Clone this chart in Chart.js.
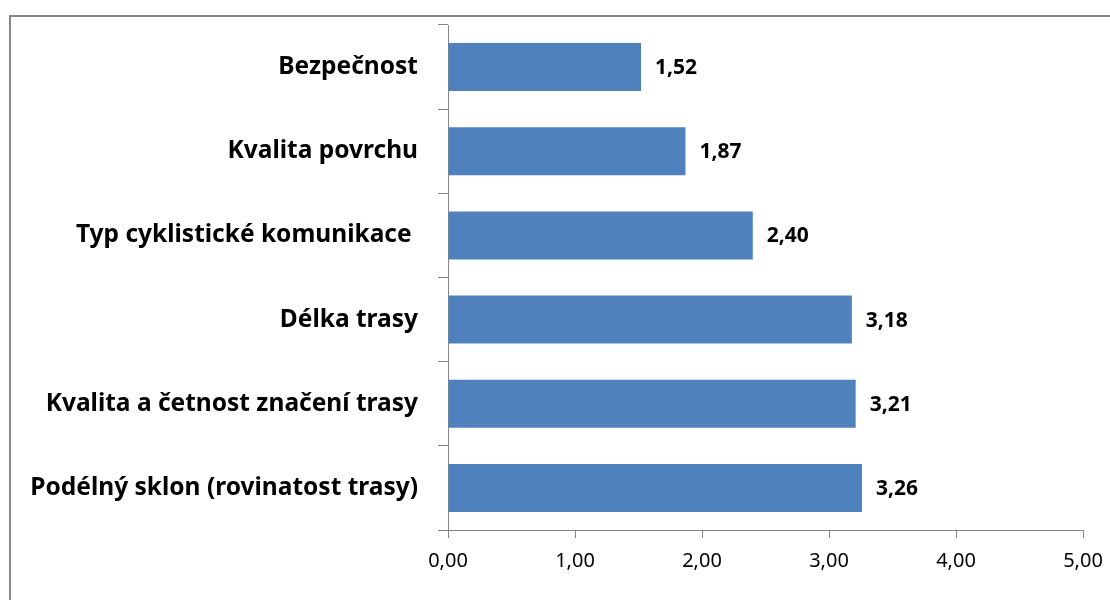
<!DOCTYPE html>
<html>
<head>
<meta charset="utf-8">
<script src="https://cdn.jsdelivr.net/npm/chart.js@4.4.1/dist/chart.umd.min.js"></script>
<style>
  html, body { margin: 0; padding: 0; background: #fff; }
  #wrap { position: relative; width: 1110px; height: 600px; }
</style>
</head>
<body>
<div id="wrap"><canvas id="chart" width="1110" height="600"></canvas></div>
<script>
const categories = [
  "Bezpečnost",
  "Kvalita povrchu",
  "Typ cyklistické komunikace ",
  "Délka trasy",
  "Kvalita a četnost značení trasy",
  "Podélný sklon (rovinatost trasy)"
];
const values = [1.52, 1.87, 2.40, 3.18, 3.21, 3.26];
const xTicks = [0, 1, 2, 3, 4, 5];

const fmt = (v) => v.toFixed(2).replace(".", ",");
const FONT = "'Noto Sans', 'DejaVu Sans', sans-serif";

// outer frame, clipped at the right and bottom like the reference
const framePlugin = {
  id: "frame",
  beforeDraw(chart) {
    const ctx = chart.ctx;
    ctx.save();
    ctx.fillStyle = "#fff";
    ctx.fillRect(0, 0, chart.width, chart.height);
    ctx.strokeStyle = "#878787";
    ctx.lineWidth = 2;
    ctx.strokeRect(10, 16, 1200, 700);
    ctx.restore();
  }
};

// value labels at bar ends
const valueLabels = {
  id: "valueLabels",
  afterDatasetsDraw(chart) {
    const ctx = chart.ctx;
    const meta = chart.getDatasetMeta(0);
    ctx.save();
    ctx.font = "bold 21px " + FONT;
    ctx.fillStyle = "#000";
    ctx.textBaseline = "middle";
    ctx.textAlign = "left";
    meta.data.forEach((bar, i) => {
      ctx.fillText(fmt(values[i]), bar.x + 14, bar.y + 1);
    });
    ctx.restore();
  }
};

new Chart(document.getElementById("chart"), {
  type: "bar",
  data: {
    labels: categories,
    datasets: [{
      data: values,
      backgroundColor: "#4F81BD",
      borderWidth: 0,
      categoryPercentage: 1,
      barPercentage: 0.57
    }]
  },
  options: {
    indexAxis: "y",
    responsive: false,
    animation: false,
    layout: { padding: { top: 25, right: 27, left: 0, bottom: 0 } },
    plugins: {
      legend: { display: false },
      tooltip: { enabled: false }
    },
    scales: {
      x: {
        min: 0,
        max: 5,
        afterBuildTicks: (scale) => { scale.ticks = xTicks.map(v => ({ value: v })); },
        afterFit: (scale) => {
          scale.height = 70;
          scale.paddingRight = 0;
          scale.paddingLeft = 0;
        },
        grid: {
          drawOnChartArea: false,
          tickLength: 8,
          color: "#878787"
        },
        border: { color: "#878787", width: 1 },
        ticks: {
          color: "#000",
          font: { family: FONT, size: 20 },
          padding: 11,
          callback: (v) => fmt(v)
        }
      },
      y: {
        offset: true,
        afterFit: (scale) => {
          scale.width = 448;
          scale.paddingTop = 0;
          scale.paddingBottom = 0;
        },
        grid: {
          drawOnChartArea: false,
          offset: true,
          tickLength: 10,
          color: "#878787"
        },
        border: { color: "#878787", width: 1 },
        ticks: {
          color: "#000",
          font: { family: FONT, size: 24.5, weight: "bold" },
          padding: 20
        }
      }
    }
  },
  plugins: [framePlugin, valueLabels]
});
</script>
</body>
</html>
